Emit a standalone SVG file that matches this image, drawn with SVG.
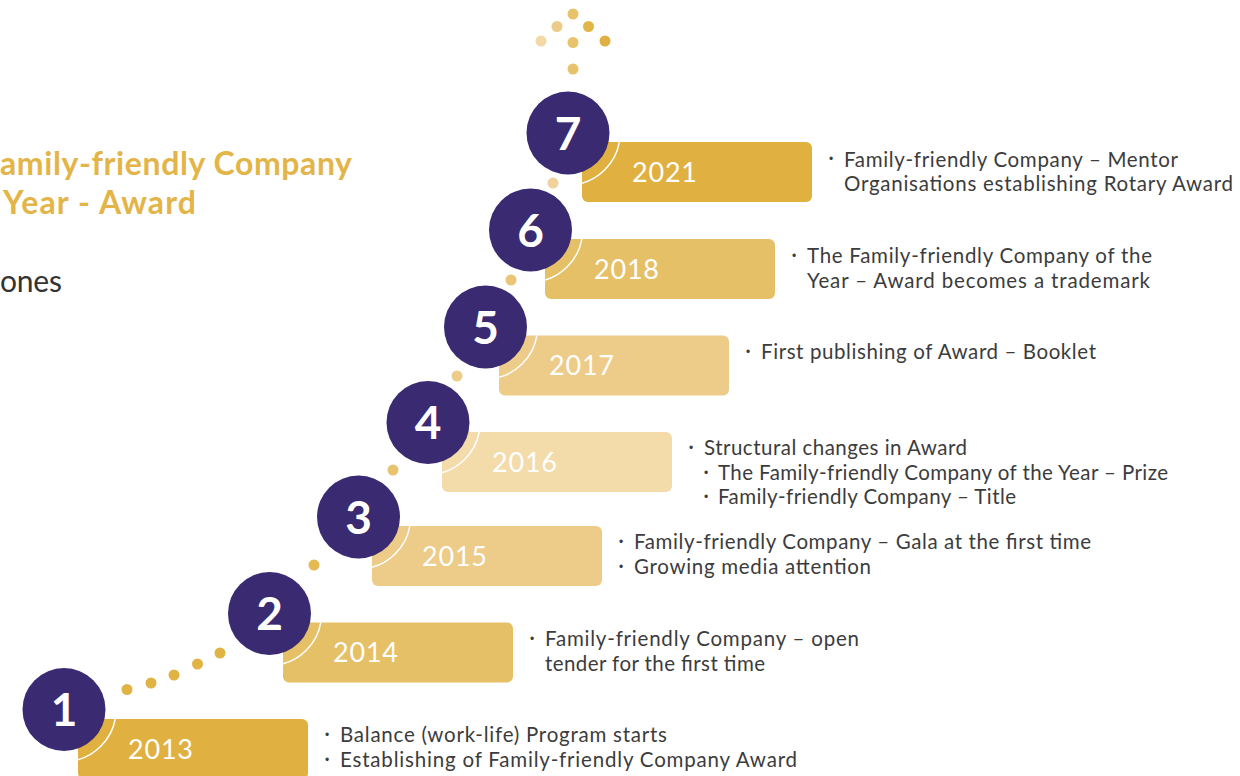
<svg xmlns="http://www.w3.org/2000/svg" width="1240" height="776" viewBox="0 0 1240 776">
<defs>
<style>
.bg{fill:#ffffff}
.circ{fill:#392A72}
.num{font-family:Lato,"Liberation Sans",sans-serif;font-weight:700;font-size:46px;fill:#ffffff;text-anchor:middle}
.year{font-family:Lato,"Liberation Sans",sans-serif;font-weight:400;font-size:27px;fill:#ffffff}
.ring{fill:none;stroke:#ffffff;stroke-width:1.5}
.desc{font-family:Lato,"Liberation Sans",sans-serif;font-size:20.5px;fill:#3C3C3C}
.bul{font-family:"Liberation Sans",sans-serif;font-size:12px;fill:#3C3C3C;text-anchor:middle}
.title{font-family:Lato,"Liberation Sans",sans-serif;font-weight:700;font-size:32px;fill:#E3B548}
.sub{font-family:Lato,"Liberation Sans",sans-serif;font-weight:400;font-size:30px;fill:#333333}
</style>
<clipPath id="c1"><rect x="78" y="719" width="230" height="60" rx="6"/></clipPath>
<clipPath id="c2"><rect x="283" y="622.5" width="230" height="60" rx="6"/></clipPath>
<clipPath id="c3"><rect x="372" y="526" width="230" height="60" rx="6"/></clipPath>
<clipPath id="c4"><rect x="442" y="432" width="230" height="60" rx="6"/></clipPath>
<clipPath id="c5"><rect x="499" y="335.5" width="230" height="60" rx="6"/></clipPath>
<clipPath id="c6"><rect x="545" y="239" width="230" height="60" rx="6"/></clipPath>
<clipPath id="c7"><rect x="582" y="142" width="230" height="60" rx="6"/></clipPath>
</defs>
<rect class="bg" x="0" y="0" width="1240" height="776"/>

<g id="title">
<text class="title" x="0" y="175" textLength="352">amily-friendly Company</text>
<text class="title" x="3" y="214" textLength="193">Year - Award</text>
<text class="sub" x="0" y="292" textLength="62">ones</text>
</g>

<g id="connectors">
<circle cx="127" cy="689.5" r="5.5" fill="#E1B244"/>
<circle cx="151" cy="683" r="5.5" fill="#E1B244"/>
<circle cx="174" cy="675" r="5.5" fill="#E1B244"/>
<circle cx="197.5" cy="664" r="5.5" fill="#E1B244"/>
<circle cx="220" cy="653" r="5.5" fill="#E1B244"/>
<circle cx="314" cy="565" r="5.5" fill="#E4BA55"/>
<circle cx="393" cy="470" r="5.5" fill="#E9C470"/>
<circle cx="457" cy="376" r="5.5" fill="#EDCB88"/>
<circle cx="511" cy="280" r="5.5" fill="#EAC575"/>
<circle cx="553" cy="183" r="5.5" fill="#EFD39B"/>
<circle cx="573" cy="14" r="5.5" fill="#E8C36C"/>
<circle cx="557" cy="26.5" r="5.5" fill="#EDCB88"/>
<circle cx="588.5" cy="26.5" r="5.5" fill="#E2B548"/>
<circle cx="541" cy="41" r="5.5" fill="#F2D9A5"/>
<circle cx="573" cy="42.5" r="5.5" fill="#E8C36C"/>
<circle cx="605" cy="41" r="5.5" fill="#E0B040"/>
<circle cx="573" cy="69" r="5.5" fill="#E8C36C"/>
</g>

<g id="step1">
<rect x="78" y="719" width="230" height="60" rx="6" fill="#E0B040"/>
<circle class="ring" cx="64" cy="709.5" r="52" clip-path="url(#c1)"/>
<circle class="circ" cx="64" cy="709.5" r="41.5"/>
<text class="num" x="64" y="726">1</text>
<text class="year" x="128" y="758.5" textLength="65">2013</text>
<text class="bul" x="327" y="739">•</text>
<text class="desc" x="340" y="742" textLength="327">Balance (work-life) Program starts</text>
<text class="bul" x="327" y="764">•</text>
<text class="desc" x="340" y="767" textLength="457">Establishing of Family-friendly Company Award</text>
</g>

<g id="step2">
<rect x="283" y="622.5" width="230" height="60" rx="6" fill="#E6C067"/>
<circle class="ring" cx="269.5" cy="613.5" r="52" clip-path="url(#c2)"/>
<circle class="circ" cx="269.5" cy="613.5" r="41.5"/>
<text class="num" x="269.5" y="630">2</text>
<text class="year" x="333" y="662" textLength="65">2014</text>
<text class="bul" x="532" y="643">•</text>
<text class="desc" x="545" y="646" textLength="314">Family-friendly Company – open</text>
<text class="desc" x="545" y="671" textLength="220">tender for the first time</text>
</g>

<g id="step3">
<rect x="372" y="526" width="230" height="60" rx="6" fill="#EDCB88"/>
<circle class="ring" cx="358.5" cy="517" r="52" clip-path="url(#c3)"/>
<circle class="circ" cx="358.5" cy="517" r="41.5"/>
<text class="num" x="358.5" y="533.5">3</text>
<text class="year" x="422" y="565.5" textLength="65">2015</text>
<text class="bul" x="621" y="546">•</text>
<text class="desc" x="634" y="549" textLength="457">Family-friendly Company – Gala at the first time</text>
<text class="bul" x="621" y="571">•</text>
<text class="desc" x="634" y="574" textLength="237">Growing media attention</text>
</g>

<g id="step4">
<rect x="442" y="432" width="230" height="60" rx="6" fill="#F3DBAA"/>
<circle class="ring" cx="428" cy="422.5" r="52" clip-path="url(#c4)"/>
<circle class="circ" cx="428" cy="422.5" r="41.5"/>
<text class="num" x="428" y="439">4</text>
<text class="year" x="492" y="471.5" textLength="65">2016</text>
<text class="bul" x="691" y="452">•</text>
<text class="desc" x="704" y="455" textLength="263">Structural changes in Award</text>
<text class="bul" x="706" y="477">•</text>
<text class="desc" x="718" y="480" textLength="450">The Family-friendly Company of the Year – Prize</text>
<text class="bul" x="706" y="501">•</text>
<text class="desc" x="718" y="504" textLength="298">Family-friendly Company – Title</text>
</g>

<g id="step5">
<rect x="499" y="335.5" width="230" height="60" rx="6" fill="#EDCB88"/>
<circle class="ring" cx="485.5" cy="327" r="52" clip-path="url(#c5)"/>
<circle class="circ" cx="485.5" cy="327" r="41.5"/>
<text class="num" x="485.5" y="343.5">5</text>
<text class="year" x="549" y="375" textLength="65">2017</text>
<text class="bul" x="748" y="356">•</text>
<text class="desc" x="761" y="359" textLength="335">First publishing of Award – Booklet</text>
</g>

<g id="step6">
<rect x="545" y="239" width="230" height="60" rx="6" fill="#E6C067"/>
<circle class="ring" cx="530.5" cy="230" r="52" clip-path="url(#c6)"/>
<circle class="circ" cx="530.5" cy="230" r="41.5"/>
<text class="num" x="530.5" y="246.5">6</text>
<text class="year" x="594" y="278.5" textLength="65">2018</text>
<text class="bul" x="794" y="260">•</text>
<text class="desc" x="807" y="263" textLength="345">The Family-friendly Company of the</text>
<text class="desc" x="807" y="287.5" textLength="343">Year – Award becomes a trademark</text>
</g>

<g id="step7">
<rect x="582" y="142" width="230" height="60" rx="6" fill="#E0B040"/>
<circle class="ring" cx="568" cy="133" r="52" clip-path="url(#c7)"/>
<circle class="circ" cx="568" cy="133" r="41.5"/>
<text class="num" x="568" y="150">7</text>
<text class="year" x="632" y="181.5" textLength="65">2021</text>
<text class="bul" x="831" y="163">•</text>
<text class="desc" x="844" y="166.5" textLength="334">Family-friendly Company – Mentor</text>
<text class="desc" x="844" y="191" textLength="389">Organisations establishing Rotary Award</text>
</g>
</svg>
